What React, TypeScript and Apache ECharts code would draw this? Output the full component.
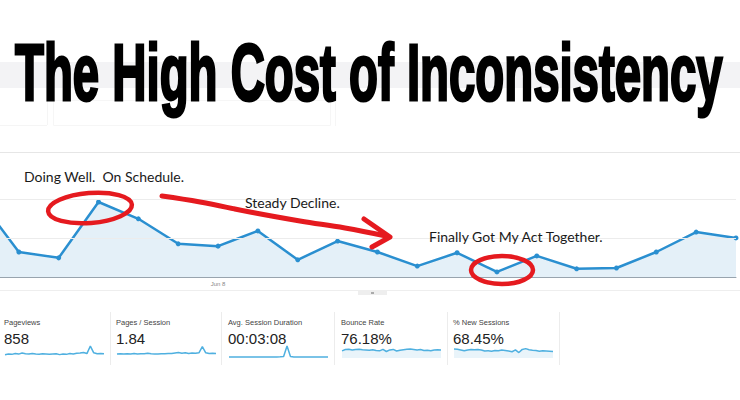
import React, { useEffect, useRef } from "react";
import * as echarts from "echarts";

const titleText = "The High Cost of Inconsistency";
const dates = ["Jun 2", "Jun 3", "Jun 4", "Jun 5", "Jun 6", "Jun 7", "Jun 8", "Jun 9", "Jun 10", "Jun 11", "Jun 12", "Jun 13", "Jun 14", "Jun 15", "Jun 16", "Jun 17", "Jun 18", "Jun 19", "Jun 20", "Jun 21"];
const sessions = [20.0, 6.4, 4.9, 19.2, 14.9, 8.5, 7.9, 11.8, 4.4, 9.2, 6.4, 2.8, 6.2, 1.3, 5.4, 2.1, 2.3, 6.4, 11.5, 10.0];
const gridValues = [10, 20];
const shownDate = "Jun 8";

const notes = ["Doing Well.  On Schedule.", "Steady Decline.", "Finally Got My Act Together."];

const metricNames = ["Pageviews", "Pages / Session", "Avg. Session Duration", "Bounce Rate", "% New Sessions"];
const metricValues = ["858", "1.84", "00:03:08", "76.18%", "68.45%"];
const sparkPageviews = [2.5, 3, 2.8, 3.5, 3, 3.8, 3.2, 3, 3.5, 3, 2.8, 3.2, 3, 2.8, 3, 3.2, 2.6, 3, 2.8, 3.4, 3, 3.6, 3.8, 4.2, 3.4, 9.2, 4, 3.2, 3.4, 3.2];
const sparkPagesSession = [3, 3.3, 3, 3.2, 3.1, 3.4, 3, 3.2, 3.3, 3.6, 3.2, 3.1, 3, 3.3, 3.2, 3.5, 3.4, 3.8, 4.2, 3.6, 4, 3.4, 3.8, 3.6, 4, 8.8, 4, 3.4, 3.6, 3.5];
const sparkDuration = [0.8, 0.8, 0.8, 0.8, 0.8, 0.8, 0.8, 0.8, 0.8, 0.8, 0.8, 0.8, 0.8, 0.8, 0.8, 0.9, 1.2, 9.2, 1.2, 0.8, 0.8, 0.8, 0.8, 0.8, 0.8, 0.8, 0.8, 0.8, 0.8, 0.8];
const sparkBounce = [5.5, 6.5, 6.8, 6.2, 6.5, 6.8, 6.4, 6.2, 6, 6.4, 5.8, 5.5, 6.6, 5, 6.2, 6.6, 5.4, 6, 6.4, 6.8, 7, 6.6, 6.2, 6.5, 5.8, 6, 5.6, 6.2, 6.4, 6.2];
const sparkNew = [7, 6.8, 6.2, 5.6, 6.2, 6.6, 6.4, 6.6, 6.2, 5.4, 5.6, 5.2, 5.8, 5.6, 6.2, 5.8, 5.4, 4.8, 6.2, 4.2, 6.6, 7.2, 6.4, 6, 5.8, 5.2, 5.6, 5.4, 5.2, 5];
const sparkSeries = [sparkPageviews, sparkPagesSession, sparkDuration, sparkBounce, sparkNew];
const sparkFilled = [false, false, false, true, true];

// the chart canvas starts 21px left of the page so the first day sits just off-screen
const OFF = 21;

export default function App() {
  const ref = useRef<HTMLDivElement>(null);
  useEffect(() => {
    if (!ref.current) return;
    const chart = echarts.init(ref.current, null, { renderer: "svg" });

    const titleFont = 'bold 80px "Liberation Sans"';
    let tw = 1300;
    try {
      const c = document.createElement("canvas").getContext("2d");
      if (c) { c.font = titleFont; tw = c.measureText(titleText).width; }
    } catch (e) {}
    const titleScale = 708 / tw;

    const cardX = [4, 116, 228, 341, 453];
    const sepX = [110, 221, 334, 447, 559];
    const blue = "#2a8fd0";
    const red = "#e51a1f";

    const grids: any[] = [{ left: 0, right: 4, top: 152, bottom: 123 }];
    const xAxes: any[] = [{
      type: "category", gridIndex: 0, data: dates, boundaryGap: false,
      axisLine: { lineStyle: { color: "#98a4ae", width: 1 } },
      axisTick: { show: false },
      axisLabel: { interval: (i: number) => dates[i] === shownDate, color: "#888", fontSize: 6, margin: 4, fontFamily: "Liberation Sans" },
      splitLine: { show: false },
    }];
    const yAxes: any[] = [{ type: "value", gridIndex: 0, min: 0, max: 32, show: false, splitLine: { show: false } }];
    const series: any[] = [{
      type: "line", xAxisIndex: 0, yAxisIndex: 0, data: sessions,
      symbol: "circle", symbolSize: 5, showSymbol: true,
      lineStyle: { color: blue, width: 2.5 }, itemStyle: { color: blue },
      areaStyle: { color: "#e4f0f8", opacity: 1 },
      markLine: {
        silent: true, symbol: "none", label: { show: false },
        lineStyle: { color: "#ececec", width: 1, type: "solid" },
        data: gridValues.map((v) => ({ yAxis: v })),
      },
      z: 3,
    }];

    sparkSeries.forEach((arr, k) => {
      const gi = k + 1;
      grids.push({ left: OFF + cardX[k] + 1, width: 99, top: 345, height: 13 });
      xAxes.push({ type: "category", gridIndex: gi, data: arr.map((_, i) => i), boundaryGap: false, show: false });
      yAxes.push({ type: "value", gridIndex: gi, min: 0, max: 10, show: false, splitLine: { show: false } });
      series.push({
        type: "line", xAxisIndex: gi, yAxisIndex: gi, data: arr, symbol: "none",
        lineStyle: { color: "#4fb0e0", width: 1.5 },
        areaStyle: sparkFilled[k] ? { color: "#e9f4fa", opacity: 1 } : undefined,
      });
    });

    const children: any[] = [
      { type: "rect", shape: { x: 0, y: 62, width: 740, height: 26 }, style: { fill: "#f3f3f5" }, z: 0 },
      { type: "line", shape: { x1: 0, y1: 125.5, x2: 47, y2: 125.5 }, style: { stroke: "#f5f5f5", lineWidth: 1 } },
      { type: "line", shape: { x1: 47.5, y1: 100, x2: 47.5, y2: 125 }, style: { stroke: "#f5f5f5", lineWidth: 1 } },
      { type: "rect", shape: { x: 53.5, y: 100.5, width: 277, height: 25 }, style: { fill: "none", stroke: "#f6f6f6", lineWidth: 1 } },
      { type: "line", shape: { x1: 335.5, y1: 100, x2: 335.5, y2: 126 }, style: { stroke: "#f6f6f6", lineWidth: 1 } },
      {
        type: "text", x: 15, y: 112, scaleX: titleScale, z: 10,
        style: { text: titleText, font: titleFont, fill: "#000", stroke: "#000", lineWidth: 3, align: "left", verticalAlign: "bottom" },
      },
      { type: "line", shape: { x1: 0, y1: 152.5, x2: 740, y2: 152.5 }, style: { stroke: "#e6e6e6", lineWidth: 1 } },
      { type: "line", shape: { x1: 0, y1: 290.5, x2: 740, y2: 290.5 }, style: { stroke: "#eeeeee", lineWidth: 1 } },
      { type: "rect", shape: { x: 358, y: 291, width: 29, height: 4 }, style: { fill: "#eeeeee" } },
      { type: "rect", shape: { x: 371, y: 292, width: 3, height: 2 }, style: { fill: "#aaaaaa" } },
      { type: "text", x: 24, y: 176, z: 10, style: { text: notes[0], fontSize: 14, fontFamily: "Lato", fill: "#1a1a1a", verticalAlign: "middle" } },
      { type: "text", x: 245, y: 202, z: 10, style: { text: notes[1], fontSize: 14, fontFamily: "Lato", fill: "#1a1a1a", verticalAlign: "middle" } },
      { type: "text", x: 429, y: 236, z: 10, style: { text: notes[2], fontSize: 14, fontFamily: "Lato", fill: "#1a1a1a", verticalAlign: "middle" } },
      { type: "ellipse", z: 20, x: 90, y: 208, rotation: 0.08, shape: { cx: 0, cy: 0, rx: 42, ry: 15 }, style: { fill: "none", stroke: red, lineWidth: 4.5 } },
      { type: "ellipse", z: 20, shape: { cx: 502, cy: 270, rx: 31, ry: 14 }, style: { fill: "none", stroke: red, lineWidth: 4.5 } },
      { type: "polyline", z: 20, shape: { points: [[162, 196], [200, 202], [250, 212], [300, 221], [345, 228], [386, 236]], smooth: 0.4 }, style: { fill: "none", stroke: red, lineWidth: 5, lineCap: "round", lineJoin: "round" } },
      { type: "polyline", z: 20, shape: { points: [[364, 219], [390, 237], [372, 247]] }, style: { fill: "none", stroke: red, lineWidth: 5, lineCap: "round", lineJoin: "round" } },
    ];
    metricNames.forEach((name, k) => {
      children.push({ type: "text", x: cardX[k], y: 322, style: { text: name, fontSize: 7.5, fontFamily: "Liberation Sans", fill: "#444", verticalAlign: "middle" } });
      children.push({ type: "text", x: cardX[k], y: 338, style: { text: metricValues[k], fontSize: 15, fontFamily: "Liberation Sans", fill: "#222", verticalAlign: "middle" } });
      children.push({ type: "line", shape: { x1: sepX[k] + 0.5, y1: 312, x2: sepX[k] + 0.5, y2: 365 }, style: { stroke: "#ececec", lineWidth: 1 } });
    });

    chart.setOption({
      animation: false,
      backgroundColor: "#ffffff",
      grid: grids,
      xAxis: xAxes,
      yAxis: yAxes,
      series,
      graphic: [{ type: "group", x: OFF, y: 0, children }],
    });
    return () => chart.dispose();
  }, []);
  return <div ref={ref} style={{ position: "fixed", left: -OFF, top: 0, width: 740 + OFF, height: 400 }} />;
}
